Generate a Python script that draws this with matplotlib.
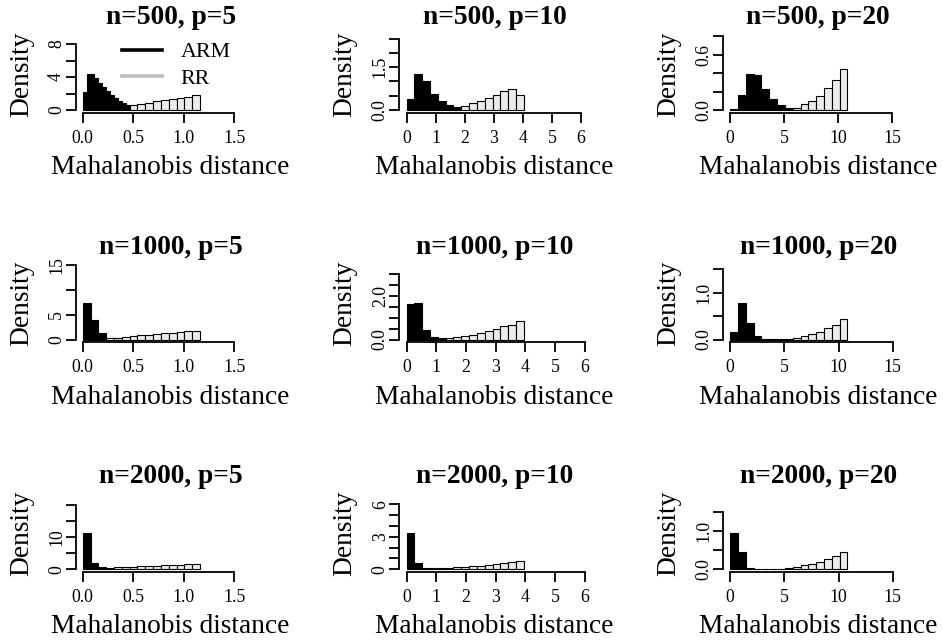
import matplotlib
matplotlib.use("Agg")
import matplotlib.pyplot as plt
from matplotlib.lines import Line2D
import numpy as np

plt.rcParams['font.family'] = ['Liberation Serif', 'DejaVu Serif']

# ---------------- data ----------------
N_VALUES = [500, 1000, 2000]
P_VALUES = [5, 10, 20]

# upper end of the histogram breaks (lower end is 0) for each panel [row n][col p]
BREAK_MAX = [[1.16, 4.03, 10.85],
             [1.16, 3.95, 10.82],
             [1.16, 3.95, 10.82]]

# densities per bin (bins split [0, BREAK_MAX] evenly)
ARM_N500_P5 = [2.16, 4.37, 4.37, 3.88, 3.27, 2.78, 2.33, 1.84, 1.43, 1.14, 0.82, 0.61, 0.49,
               0, 0, 0, 0, 0, 0, 0, 0, 0, 0, 0, 0, 0, 0, 0, 0, 0]
RR_N500_P5 = [0, 0, 0, 0, 0, 0, 0.60, 0.73, 0.90, 1.10, 1.22, 1.39, 1.51, 1.63, 1.76]
ARM_N500_P10 = [0.39, 1.26, 1.00, 0.57, 0.32, 0.17, 0.11, 0, 0, 0, 0, 0, 0, 0, 0]
RR_N500_P10 = [0, 0, 0, 0, 0, 0, 0, 0.14, 0.24, 0.31, 0.41, 0.51, 0.65, 0.74, 0.53]
ARM_N500_P20 = [0.007, 0.16, 0.39, 0.375, 0.23, 0.12, 0.05, 0.025, 0, 0, 0, 0, 0, 0, 0]
RR_N500_P20 = [0, 0, 0, 0, 0, 0, 0, 0, 0.02, 0.06, 0.10, 0.15, 0.24, 0.33, 0.44]

ARM_N1000_P5 = [7.3, 3.86, 1.24, 0.35, 0.2, 0, 0, 0, 0, 0, 0, 0, 0, 0, 0]
RR_N1000_P5 = [0, 0, 0, 0.30, 0.40, 0.55, 0.70, 0.85, 1.00, 1.10, 1.25, 1.40, 1.50, 1.65, 1.80]
ARM_N1000_P10 = [1.63, 1.66, 0.46, 0.12, 0.06, 0, 0, 0, 0, 0, 0, 0, 0, 0, 0]
RR_N1000_P10 = [0, 0, 0, 0, 0, 0.06, 0.10, 0.14, 0.20, 0.28, 0.38, 0.49, 0.62, 0.69, 0.85]
ARM_N1000_P20 = [0.15, 0.77, 0.36, 0.07, 0.02, 0.014, 0.014, 0, 0, 0, 0, 0, 0, 0, 0]
RR_N1000_P20 = [0, 0, 0, 0, 0, 0, 0, 0.02, 0.04, 0.08, 0.11, 0.16, 0.24, 0.32, 0.44]

ARM_N2000_P5 = [11.2, 2.0, 0.6, 0, 0, 0, 0, 0, 0, 0, 0, 0, 0, 0, 0]
RR_N2000_P5 = [0, 0, 0, 0.5, 0.6, 0.7, 0.8, 0.9, 1.0, 1.1, 1.2, 1.3, 1.4, 1.5, 1.6]
ARM_N2000_P10 = [3.33, 0.60, 0.15, 0.10, 0, 0, 0, 0, 0, 0, 0, 0, 0, 0, 0]
RR_N2000_P10 = [0, 0, 0, 0, 0.12, 0.15, 0.18, 0.22, 0.28, 0.35, 0.42, 0.52, 0.60, 0.70, 0.80]
ARM_N2000_P20 = [0.94, 0.45, 0.04, 0.02, 0.01, 0.01, 0.01, 0, 0, 0, 0, 0, 0, 0, 0]
RR_N2000_P20 = [0, 0, 0, 0, 0, 0, 0, 0.03, 0.05, 0.10, 0.14, 0.20, 0.26, 0.35, 0.45]

ARM = [[ARM_N500_P5, ARM_N500_P10, ARM_N500_P20],
       [ARM_N1000_P5, ARM_N1000_P10, ARM_N1000_P20],
       [ARM_N2000_P5, ARM_N2000_P10, ARM_N2000_P20]]
RR = [[RR_N500_P5, RR_N500_P10, RR_N500_P20],
      [RR_N1000_P5, RR_N1000_P10, RR_N1000_P20],
      [RR_N2000_P5, RR_N2000_P10, RR_N2000_P20]]

X_TICKS = [[0, 0.5, 1.0, 1.5], [0, 1, 2, 3, 4, 5, 6], [0, 5, 10, 15]]
X_TICK_LABELS = [["0.0", "0.5", "1.0", "1.5"],
                 ["0", "1", "2", "3", "4", "5", "6"],
                 ["0", "5", "10", "15"]]
Y_TICKS = [[[0, 2, 4, 6, 8], [0, 0.5, 1.0, 1.5, 2.0, 2.5], [0, 0.2, 0.4, 0.6, 0.8]],
           [[0, 5, 10, 15], [0, 0.5, 1.0, 1.5, 2.0, 2.5, 3.0], [0, 0.5, 1.0, 1.5]],
           [[0, 5, 10, 15, 20], [0, 1, 2, 3, 4, 5, 6], [0, 0.5, 1.0, 1.5]]]
Y_TICK_LABELS = [[["0", "", "4", "", "8"], ["0.0", "", "", "1.5", "", ""], ["0.0", "", "", "0.6", ""]],
                 [["0", "5", "", "15"], ["0.0", "", "", "", "2.0", "", ""], ["0.0", "", "1.0", ""]],
                 [["0", "", "10", "", ""], ["0", "", "", "3", "", "", "6"], ["0.0", "", "1.0", ""]]]

LEGEND_LABELS = ["ARM", "RR"]

# ---------------- layout ----------------
FW, FH = 943, 642
fig = plt.figure(figsize=(FW / 100, FH / 100), dpi=100)

COL_X0 = [82.7, 406.5, 730.2]
ROW_Y0 = [110.0, 339.5, 569.3]
W, H = 190.0, 77.8
EXT = 0.04

TITLE_FS = 19.8
LAB_FS = 19.7
TICK_FS = 12.8
LEG_FS = 15.8

for r, n in enumerate(N_VALUES):
    for c, p in enumerate(P_VALUES):
        left = COL_X0[c] - W * EXT / (1 + 2 * EXT)
        bottom = ROW_Y0[r] + H * EXT / (1 + 2 * EXT)
        ax = fig.add_axes([left / FW, 1 - bottom / FH, W / FW, H / FH])
        ax.patch.set_alpha(0)

        M = BREAK_MAX[r][c]
        arm = np.array(ARM[r][c], dtype=float)
        rr = np.array(RR[r][c], dtype=float)
        ea = np.linspace(0, M, len(arm) + 1)
        er = np.linspace(0, M, len(rr) + 1)
        ma = arm > 0
        mr = rr > 0
        ax.bar(ea[:-1][ma], arm[ma], width=np.diff(ea)[ma], align='edge',
               color='black', edgecolor='black', linewidth=0.8)
        ax.bar(er[:-1][mr], rr[mr], width=np.diff(er)[mr], align='edge',
               color='#EBEBEB', edgecolor='black', linewidth=0.8)

        X = 1.5 * M
        Y = 2 * arm.max()
        ax.set_xlim(-EXT * X, (1 + EXT) * X)
        ax.set_ylim(-EXT * Y, (1 + EXT) * Y)

        xt = X_TICKS[c]
        yt = Y_TICKS[r][c]
        ax.set_xticks(xt)
        ax.set_xticklabels(X_TICK_LABELS[c])
        ax.set_yticks(yt)
        ax.set_yticklabels(Y_TICK_LABELS[r][c], rotation=90, va='center')
        for s in ['top', 'right']:
            ax.spines[s].set_visible(False)
        for s in ['left', 'bottom']:
            ax.spines[s].set_linewidth(1.3)
        ax.spines['bottom'].set_bounds(xt[0], xt[-1])
        ax.spines['left'].set_bounds(yt[0], yt[-1])
        ax.tick_params(axis='both', direction='out', length=7.2, width=1.3,
                       labelsize=TICK_FS, color='black')
        ax.tick_params(axis='x', pad=5)
        ax.tick_params(axis='y', pad=0.5)

        cx = left + W / 2
        fig.text(cx / FW, 1 - (ROW_Y0[r] - 86) / FH, f"n={n}, p={p}",
                 ha='center', va='baseline', fontsize=TITLE_FS, fontweight='bold')
        fig.text(cx / FW, 1 - (ROW_Y0[r] + 64) / FH, "Mahalanobis distance",
                 ha='center', va='baseline', fontsize=LAB_FS)
        cy = bottom - H / 2
        fig.text((left - 47.8) / FW, 1 - cy / FH, "Density", rotation=90,
                 rotation_mode='anchor', ha='center', va='baseline', fontsize=LAB_FS)

        if r == 0 and c == 0:
            handles = [Line2D([], [], color='black', lw=2.6),
                       Line2D([], [], color='#BEBEBE', lw=2.6)]
            fig.legend(handles, LEGEND_LABELS, loc='upper left',
                       bbox_to_anchor=(121.7 / FW, 1 - 42 / FH),
                       frameon=False, fontsize=LEG_FS, handlelength=1.83,
                       handletextpad=0.84, borderpad=0, borderaxespad=0,
                       labelspacing=0.27)

fig.savefig("out.png", dpi=100)
